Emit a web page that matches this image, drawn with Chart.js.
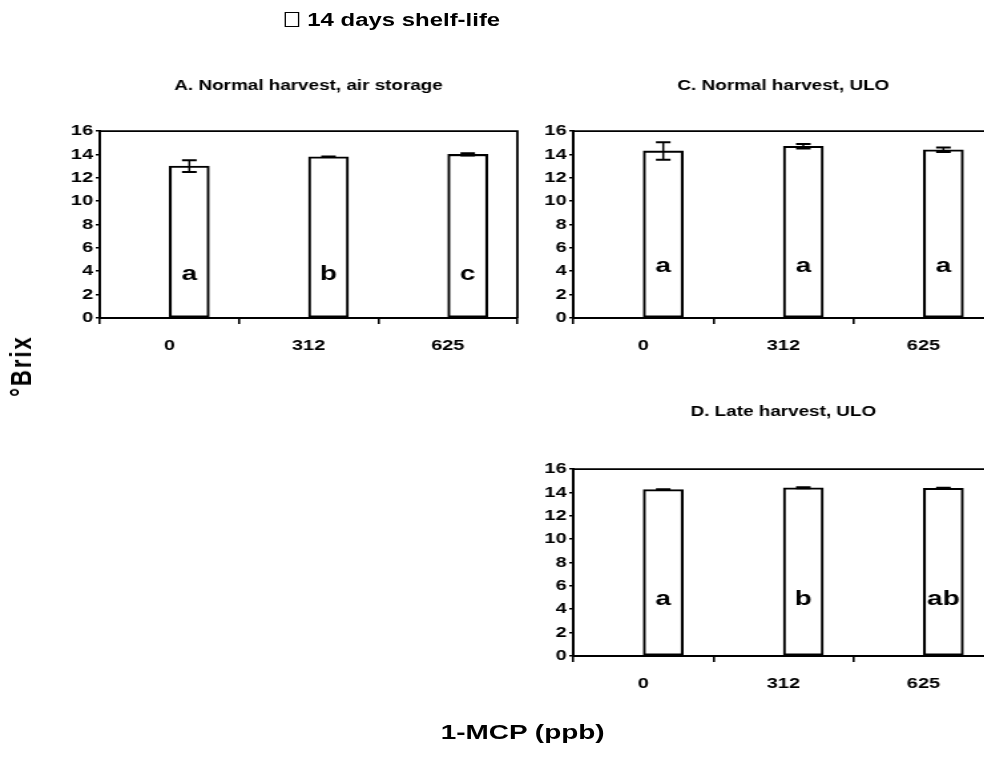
<!DOCTYPE html>
<html>
<head>
<meta charset="utf-8">
<script src="https://cdn.jsdelivr.net/npm/chart.js@4/dist/chart.umd.min.js"></script>
<style>
  html, body { margin: 0; padding: 0; background: #fff; overflow: hidden; }
  body { width: 984px; height: 759px; position: relative; }
  /* the whole figure is laid out narrow and stretched sideways */
  #fig {
    position: absolute; left: 0; top: 0; width: 740px; height: 759px;
    transform: scaleX(1.33); transform-origin: 0 0;
    font-family: "Liberation Sans", Arial, sans-serif; font-weight: bold; color: #000;
  }
  #fig canvas { position: absolute; }
  #legend { position: absolute; left: 214px; top: 9px; font-size: 18px; line-height: 22px; white-space: nowrap; }
  #legend .box { display: inline-block; width: 9px; height: 13px; border: 1.3px solid #000; vertical-align: -1px; margin-right: 6px; }
  #ytitle { position: absolute; left: 16px; top: 366px; transform: translate(-50%, -50%) rotate(-90deg); font-size: 22px; letter-spacing: 2px; white-space: nowrap; }
  #xtitle { position: absolute; left: 393px; top: 732px; transform: translate(-50%, -50%); font-size: 21px; white-space: nowrap; }
</style>
</head>
<body>
<div id="fig">
  <div id="legend"><span class="box"></span>14 days shelf-life</div>
  <canvas id="panelA" width="400" height="300" style="left:0px;top:60px;width:400px;height:300px"></canvas>
  <canvas id="panelC" width="400" height="300" style="left:360px;top:60px;width:400px;height:300px"></canvas>
  <canvas id="panelD" width="400" height="312" style="left:360px;top:386px;width:400px;height:312px"></canvas>
  <div id="ytitle">°Brix</div>
  <div id="xtitle">1-MCP (ppb)</div>
</div>
<script>
const doses = ['0', '312', '625'];
const brixTicks = [0, 2, 4, 6, 8, 10, 12, 14, 16];

const brixA = [13.0, 13.8, 14.0];
const errA = [0.5, 0.03, 0.1];
const lettersA = ['a', 'b', 'c'];

const brixC = [14.3, 14.7, 14.4];
const errC = [0.75, 0.2, 0.2];
const lettersC = ['a', 'a', 'a'];

const brixD = [14.25, 14.4, 14.35];
const errD = [0.03, 0.05, 0.05];
const lettersD = ['a', 'b', 'ab'];

const FONT = 'Liberation Sans, Arial, sans-serif';

// top and right edges of the plot box
const framePlugin = {
  id: 'frame',
  afterDatasetsDraw(chart) {
    const { ctx, chartArea: { left, top, right, bottom } } = chart;
    ctx.save();
    ctx.strokeStyle = '#000';
    ctx.lineWidth = 1.8;
    ctx.beginPath();
    ctx.moveTo(left, top);
    ctx.lineTo(right, top);
    ctx.lineTo(right, bottom);
    ctx.stroke();
    ctx.restore();
  }
};

// standard error whiskers on the shelf-life bars
const errorBarPlugin = {
  id: 'errorBars',
  afterDatasetsDraw(chart) {
    const ds = chart.data.datasets[1];
    const meta = chart.getDatasetMeta(1);
    const y = chart.scales.y;
    const ctx = chart.ctx;
    ctx.save();
    ctx.strokeStyle = '#000';
    meta.data.forEach((bar, i) => {
      const v = ds.data[i], e = ds.errors[i];
      const hi = y.getPixelForValue(v + e), lo = y.getPixelForValue(v - e);
      ctx.lineWidth = 1.5;
      ctx.beginPath();
      ctx.moveTo(bar.x, hi);
      ctx.lineTo(bar.x, lo);
      ctx.stroke();
      ctx.lineWidth = 2;
      ctx.beginPath();
      ctx.moveTo(bar.x - 5.5, hi);
      ctx.lineTo(bar.x + 5.5, hi);
      ctx.moveTo(bar.x - 5.5, lo);
      ctx.lineTo(bar.x + 5.5, lo);
      ctx.stroke();
    });
    ctx.restore();
  }
};

// significance letters inside each bar
const letterPlugin = {
  id: 'letters',
  afterDatasetsDraw(chart, args, opts) {
    const ds = chart.data.datasets[1];
    const meta = chart.getDatasetMeta(1);
    const y = chart.scales.y;
    const ctx = chart.ctx;
    ctx.save();
    ctx.fillStyle = '#000';
    ctx.font = 'bold 21px ' + FONT;
    ctx.textAlign = 'center';
    ctx.textBaseline = 'alphabetic';
    meta.data.forEach((bar, i) => {
      ctx.fillText(ds.letters[i], bar.x, y.getPixelForValue(opts.at));
    });
    ctx.restore();
  }
};

function panel(id, title, values, errors, letters, p) {
  return new Chart(document.getElementById(id), {
    type: 'bar',
    data: {
      labels: doses,
      datasets: [
        // empty first slot of every group, the shelf-life bar sits right of the centre
        { label: '', data: [null, null, null] },
        {
          label: '14 days shelf-life',
          data: values,
          errors: errors,
          letters: letters,
          backgroundColor: '#fff',
          borderColor: '#000',
          borderWidth: 2.1,
          borderSkipped: false
        }
      ]
    },
    options: {
      responsive: false,
      animation: false,
      datasets: { bar: { barThickness: 30 } },
      layout: { padding: { right: p.padRight } },
      plugins: {
        legend: { display: false },
        tooltip: { enabled: false },
        title: {
          display: true,
          text: title,
          fullSize: false,
          color: '#000',
          font: { family: FONT, size: 14.2, weight: 'bold', lineHeight: 1.2 },
          padding: { top: p.titleTop, bottom: p.titleBottom }
        },
        letters: { at: p.letterAt }
      },
      scales: {
        x: {
          grid: { drawOnChartArea: false, color: '#000', lineWidth: 1.6, tickLength: 6, offset: true },
          border: { display: true, color: '#000', width: 2 },
          ticks: { color: '#000', font: { family: FONT, size: 15, weight: 'bold' }, padding: 13 },
          afterFit: s => { s.height = 42; }
        },
        y: {
          min: 0,
          max: 16,
          afterBuildTicks: s => { s.ticks = brixTicks.map(value => ({ value })); },
          grid: { drawOnChartArea: false, color: '#000', lineWidth: 1.6, tickLength: 3 },
          border: { display: true, color: '#000', width: 2 },
          ticks: { color: '#000', font: { family: FONT, size: 15, weight: 'bold' }, padding: 2 },
          afterFit: s => { s.width = p.axisWidth; }
        }
      }
    },
    plugins: [framePlugin, errorBarPlugin, letterPlugin]
  });
}

panel('panelA', 'A. Normal harvest, air storage', brixA, errA, lettersA,
  { axisWidth: 75, padRight: 11, titleTop: 17.4, titleBottom: 36.6, letterAt: 3.25 });
panel('panelC', 'C. Normal harvest, ULO', brixC, errC, lettersC,
  { axisWidth: 71, padRight: 13, titleTop: 17.4, titleBottom: 36.6, letterAt: 3.95 });
panel('panelD', 'D. Late harvest, ULO', brixD, errD, lettersD,
  { axisWidth: 71, padRight: 13, titleTop: 17.1, titleBottom: 48.9, letterAt: 4.35 });
</script>
</body>
</html>
